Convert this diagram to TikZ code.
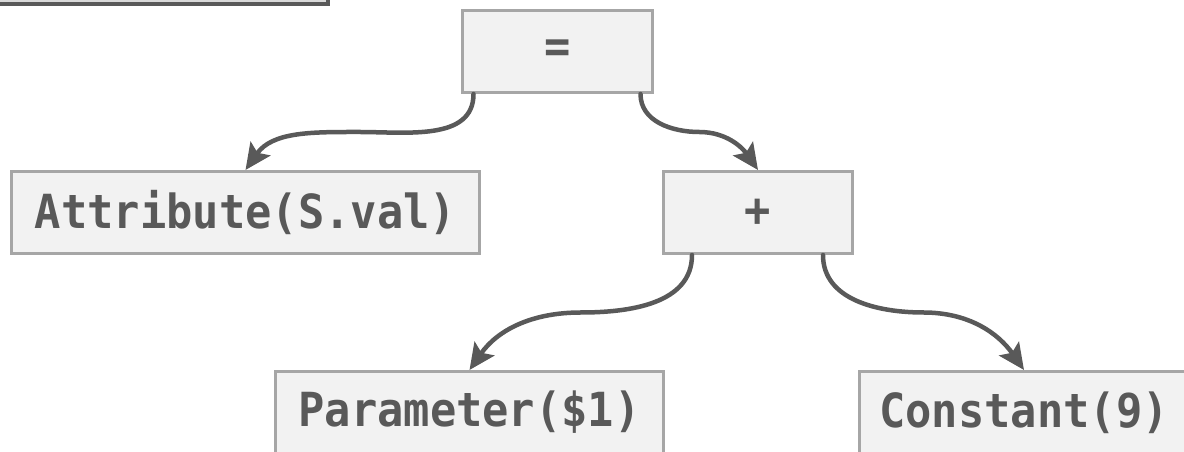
\documentclass[tikz,border=0pt]{standalone}
\usepackage{fontspec}
\usetikzlibrary{positioning, calc, arrows.meta}
\newfontfamily\treefont[FakeStretch=0.93]{DejaVu Sans Mono}
\definecolor{boxfill}{HTML}{F2F2F2}
\definecolor{boxline}{HTML}{A6A6A6}
\definecolor{ink}{HTML}{595959}
\definecolor{oldfill}{HTML}{D9D9D9}

\begin{document}
\begin{tikzpicture}[x=1pt,y=1pt,line cap=round,
    opbox/.style={draw=boxline, fill=boxfill, line width=3pt, inner sep=0pt,
      minimum height=82pt, text=ink, font=\fontsize{47}{52}\selectfont\treefont\bfseries},
    oldbox/.style={draw=ink, fill=oldfill, line width=4pt, inner sep=0pt},
    link/.style={draw=ink, line width=4.5pt, -{Stealth[length=26pt,width=24pt,inset=5pt]}}]
    \useasboundingbox (0,0) rectangle (1184,452);

    %box tagliato in alto
    \node[oldbox, minimum width=380pt, minimum height=60pt, anchor=south east] (prev) at (330,446) {};

    %nodi dell'albero
    \node[opbox, minimum width=190pt] (eq) at (557.5,400.5) {=};
    \node[opbox, minimum width=468pt] (attr) at (245.5,239.5) {Attribute(S.val)};
    \node[opbox, minimum width=189pt] (plus) at (758,239.5) {+};
    \node[opbox, minimum width=388pt] (param) at (469.5,39.5) {Parameter(\$1)};
    \node[opbox, minimum width=329pt] (const) at (1024,39.5) {Constant(9)};

    %frecce da =
    \draw[link] ([xshift=-84pt]eq.south) to[out=-90,in=0] ($([xshift=-84pt]eq.south)!.5!(attr.north)$)
        to[out=180,in=55] (attr.north);
    \draw[link] ([xshift=83pt]eq.south) to[out=-90,in=180] ($([xshift=83pt]eq.south)!.5!(plus.north)$)
        to[out=0,in=125] (plus.north);
    %frecce da +
    \draw[link] ([xshift=-66pt]plus.south) to[out=-90,in=0] ($([xshift=-66pt]plus.south)!.5!(param.north)$)
        to[out=180,in=55] (param.north);
    \draw[link] ([xshift=65pt]plus.south) to[out=-90,in=180] ($([xshift=65pt]plus.south)!.5!(const.north)$)
        to[out=0,in=125] (const.north);
\end{tikzpicture}
\end{document}
